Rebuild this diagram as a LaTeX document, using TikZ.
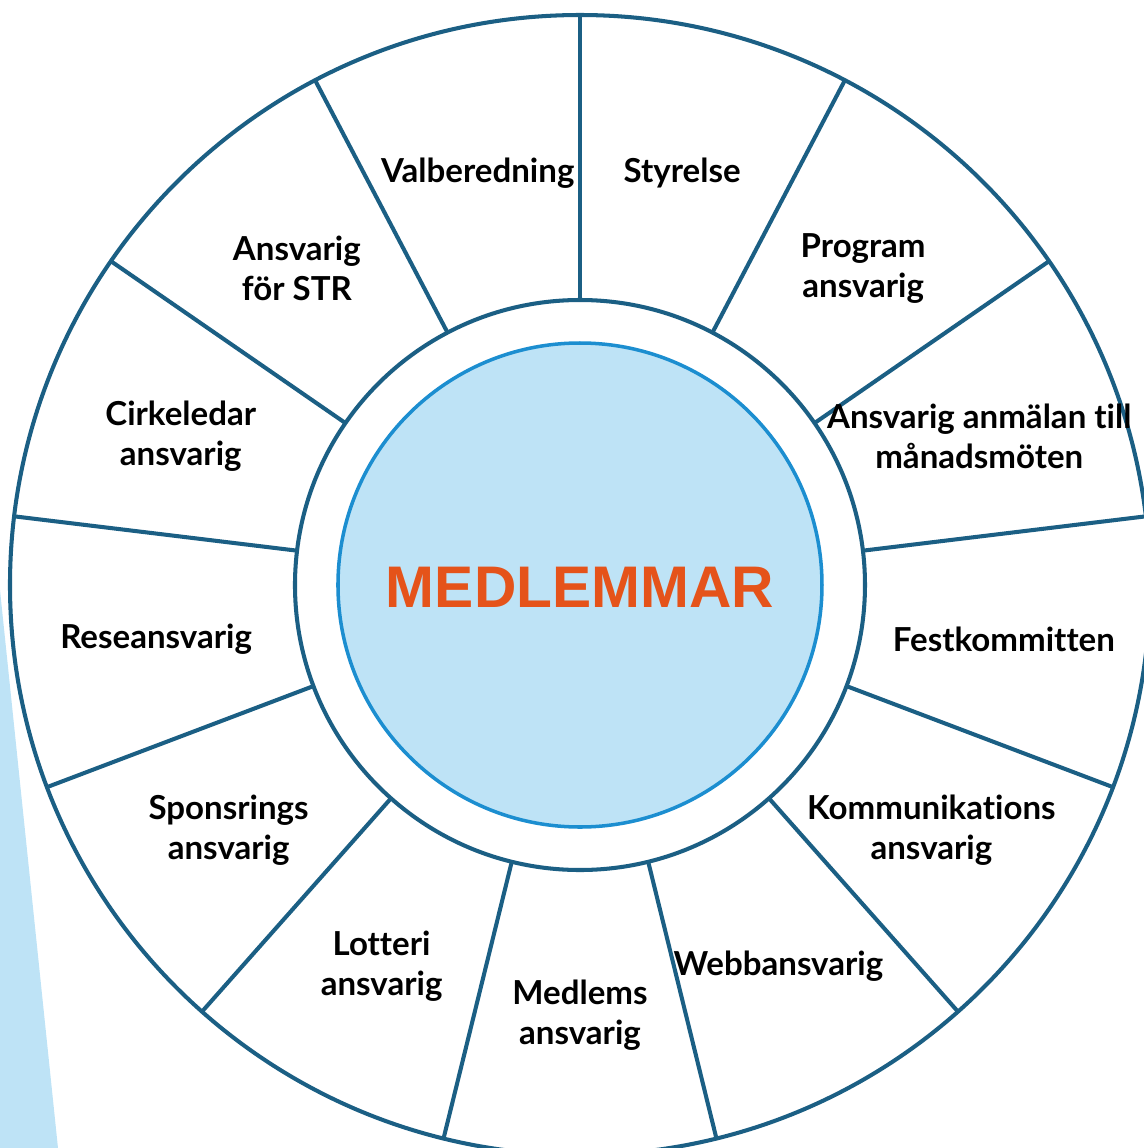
\documentclass[tikz,border=0pt]{standalone}
\usepackage{fontspec}
\setmainfont{Lato}[Ligatures=NoCommon]
\newfontfamily\titlefont{Liberation Sans}
\definecolor{spoke}{HTML}{1B5F84}
\definecolor{rim}{HTML}{1C8ED0}
\definecolor{pale}{HTML}{BEE3F6}
\definecolor{title}{HTML}{E5531A}

\begin{document}
\begin{tikzpicture}[line width=1.15pt]
\tikzset{
  role/.style={align=center,yshift=-0.03cm,font=\fontsize{9.4}{11.4}\selectfont\bfseries},
}
\useasboundingbox (-5.80,-5.63) rectangle (5.64,5.85);
\clip (-5.80,-5.63) rectangle (5.64,5.85);
\coordinate (mid) at (0,0) {};

\fill[pale] (-5.80,-0.05) -- (-5.22,-5.63) -- (-5.80,-5.63) -- cycle;

\draw[spoke,fill=white] (mid) circle [radius=5.70];
\draw[spoke] (mid) circle [radius=2.85];
\draw[rim,line width=1pt,fill=pale] (mid) circle [radius=2.42];

\draw[spoke] (90:2.85) -- (90:5.70);
\draw[spoke] (62.31:2.85) -- (62.31:5.70);
\draw[spoke] (34.62:2.85) -- (34.62:5.70);
\draw[spoke] (6.92:2.85) -- (6.92:5.70);
\draw[spoke] (-20.77:2.85) -- (-20.77:5.70);
\draw[spoke] (-48.46:2.85) -- (-48.46:5.70);
\draw[spoke] (-76.15:2.85) -- (-76.15:5.70);
\draw[spoke] (-103.85:2.85) -- (-103.85:5.70);
\draw[spoke] (-131.54:2.85) -- (-131.54:5.70);
\draw[spoke] (-159.23:2.85) -- (-159.23:5.70);
\draw[spoke] (173.08:2.85) -- (173.08:5.70);
\draw[spoke] (145.38:2.85) -- (145.38:5.70);
\draw[spoke] (117.69:2.85) -- (117.69:5.70);

\node (medlemmar) at (0,-0.02) {\titlefont\fontsize{16.7}{18}\selectfont\bfseries\textcolor{title}{MEDLEMMAR}};

\node[role] (styrelse) at (76.15:4.27) {Styrelse};
\node[role] (program) at (48.46:4.27) {Program\\ansvarig};
\node[role] (anmalan) at (20.77:4.27) {Ansvarig anmälan till\\månadsmöten};
\node[role] (fest) at (-6.92:4.27) {Festkommitten};
\node[role] (kommunikation) at (-34.62:4.27) {Kommunikations\\ansvarig};
\node[role] (webb) at (-62.31:4.27) {Webbansvarig};
\node[role] (medlems) at (-90:4.27) {Medlems\\ansvarig};
\node[role] (lotteri) at (-117.69:4.27) {Lotteri\\ansvarig};
\node[role] (sponsring) at (-145.38:4.27) {Sponsrings\\ansvarig};
\node[role] (resa) at (-173.08:4.27) {Reseansvarig};
\node[role] (cirkel) at (159.23:4.27) {Cirkeledar\\ansvarig};
\node[role] (str) at (131.54:4.27) {Ansvarig\\för STR};
\node[role] (valberedning) at (103.85:4.27) {Valberedning};
\end{tikzpicture}
\end{document}
